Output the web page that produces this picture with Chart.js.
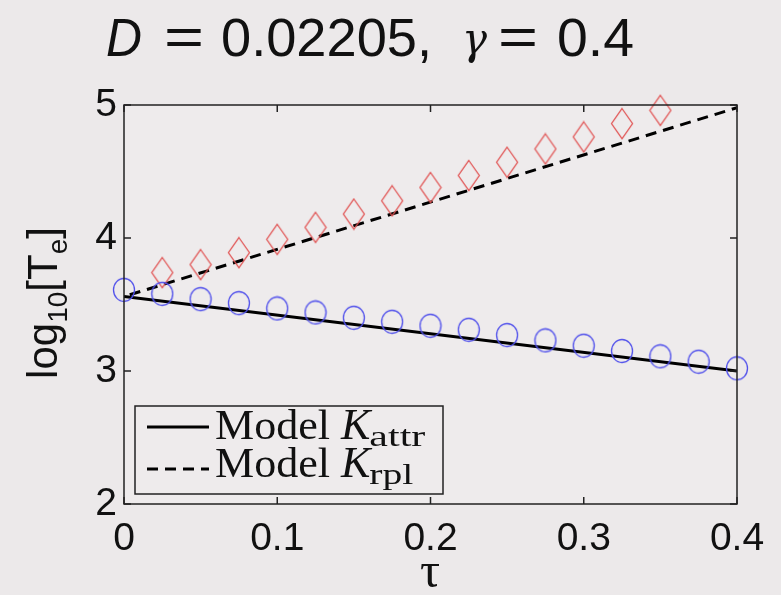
<!DOCTYPE html>
<html>
<head>
<meta charset="utf-8">
<script src="https://cdn.jsdelivr.net/npm/chart.js@4.4.1/dist/chart.umd.min.js"></script>
<style>
  html, body { margin: 0; padding: 0; background: #ece9ea; }
  #wrap { width: 781px; height: 595px; }
</style>
</head>
<body>
<div id="wrap"><canvas id="c" width="781" height="595"></canvas></div>
<script>
// data
const tauCircles = [0, 0.025, 0.05, 0.075, 0.1, 0.125, 0.15, 0.175, 0.2, 0.225, 0.25, 0.275, 0.3, 0.325, 0.35, 0.375, 0.4];
const attrSim = [3.61, 3.58, 3.54, 3.51, 3.47, 3.44, 3.40, 3.37, 3.34, 3.31, 3.27, 3.23, 3.19, 3.15, 3.11, 3.07, 3.02];
const tauDiamonds = [0.025, 0.05, 0.075, 0.1, 0.125, 0.15, 0.175, 0.2, 0.225, 0.25, 0.275, 0.3, 0.325, 0.35];
const rplSim = [3.74, 3.80, 3.89, 3.99, 4.08, 4.18, 4.28, 4.38, 4.47, 4.57, 4.67, 4.76, 4.86, 4.96];
const tauModel = [0, 0.4];
const attrModel = [3.56, 3.0];
const rplModel = [3.56, 4.98];
const xTicks = [0, 0.1, 0.2, 0.3, 0.4];
const yTicks = [2, 3, 4, 5];

const pts = (xs, ys) => xs.map((x, i) => ({ x: x, y: ys[i] }));

function marker(kind, color) {
  const cv = document.createElement("canvas");
  const w = 24;
  const h = kind === "circle" ? 26 : 33;
  cv.width = w; cv.height = h;
  const g = cv.getContext("2d");
  g.strokeStyle = color;
  g.lineWidth = 1.3;
  g.beginPath();
  if (kind === "circle") {
    g.ellipse(w / 2, h / 2, w / 2 - 1.5, h / 2 - 1.5, 0, 0, Math.PI * 2);
  } else {
    g.moveTo(w / 2, 1.5); g.lineTo(w - 1.5, h / 2); g.lineTo(w / 2, h - 1.5); g.lineTo(1.5, h / 2); g.closePath();
  }
  g.stroke();
  return cv;
}

// text squeezed or stretched to a given width
function textW(c, s, x, y, w) {
  const m = c.measureText(s).width;
  c.save();
  c.translate(x, y);
  c.scale(w / m, 1);
  c.fillText(s, 0, 0);
  c.restore();
}

const frame = {
  id: "frame",
  beforeDraw(chart) {
    const c = chart.ctx;
    c.save();
    c.fillStyle = "#ece9ea";
    c.fillRect(0, 0, chart.width, chart.height);
    const a = chart.chartArea;
    c.fillStyle = "#eeebec";
    c.fillRect(a.left, a.top, a.right - a.left, a.bottom - a.top);
    c.restore();
  },
  afterDraw(chart) {
    const c = chart.ctx;
    const a = chart.chartArea;
    const xs = chart.scales.x, ys = chart.scales.y;
    c.save();
    c.strokeStyle = "#222";
    c.lineWidth = 1.5;
    c.strokeRect(a.left, a.top, a.right - a.left, a.bottom - a.top);
    c.beginPath();
    xTicks.forEach((t) => {
      const px = xs.getPixelForValue(t);
      c.moveTo(px, a.bottom); c.lineTo(px, a.bottom - 7);
      c.moveTo(px, a.top); c.lineTo(px, a.top + 7);
    });
    yTicks.forEach((t) => {
      const py = ys.getPixelForValue(t);
      c.moveTo(a.left, py); c.lineTo(a.left + 7, py);
      c.moveTo(a.right, py); c.lineTo(a.right - 7, py);
    });
    c.stroke();

    // title
    c.fillStyle = "#111";
    c.textBaseline = "alphabetic";
    c.textAlign = "left";
    const by = 56;
    c.font = "italic 54px 'Liberation Sans'";
    textW(c, "D", 106, by, 36);
    c.font = "54px 'Liberation Sans'";
    textW(c, "=", 164, by - 1, 40);
    textW(c, "0.02205,", 221, by, 211);
    textW(c, "=", 498, by - 1, 40);
    textW(c, "0.4", 557, by, 77);
    c.font = "italic 44px 'DejaVu Serif'";
    textW(c, "\u03b3", 462, by - 2, 25);

    // x label
    c.textAlign = "center";
    c.font = "50px 'Liberation Serif'";
    c.fillText("\u03c4", 430, 587);
    c.textAlign = "left";

    // y label
    c.save();
    c.translate(57, 303);
    c.rotate(-Math.PI / 2);
    const parts = [["log", 42, 0], ["10", 28, 10], ["[T", 42, 0], ["e", 28, 10], ["]", 42, 0]];
    let total = 0;
    parts.forEach((p) => { c.font = p[1] + "px 'Liberation Sans'"; total += c.measureText(p[0]).width; });
    let lx = -total / 2;
    parts.forEach((p) => {
      c.font = p[1] + "px 'Liberation Sans'";
      c.fillText(p[0], lx, p[2]);
      lx += c.measureText(p[0]).width;
    });
    c.restore();

    // legend
    const L = { x: 135, y: 406, w: 308, h: 88 };
    c.fillStyle = "#eeebec";
    c.fillRect(L.x, L.y, L.w, L.h);
    c.strokeStyle = "#222";
    c.lineWidth = 1.5;
    c.strokeRect(L.x, L.y, L.w, L.h);
    const rows = [
      { ds: chart.data.datasets[2], sub: "attr", subW: 56, ly: 427, by: 439 },
      { ds: chart.data.datasets[3], sub: "rpl", subW: 44, ly: 469, by: 477 }
    ];
    rows.forEach((r) => {
      c.strokeStyle = r.ds.borderColor;
      c.lineWidth = r.ds.borderWidth;
      c.setLineDash(r.ds.borderDash || []);
      c.beginPath(); c.moveTo(147, r.ly); c.lineTo(209, r.ly); c.stroke();
      c.setLineDash([]);
      c.fillStyle = "#111";
      c.font = "43px 'Liberation Serif'";
      textW(c, "Model", 215, r.by, 115);
      c.font = "italic 44px 'Liberation Serif'";
      c.fillText("K", 341, r.by);
      const kEnd = 341 + c.measureText("K").width;
      c.font = "30px 'Liberation Serif'";
      textW(c, r.sub, kEnd - 1, r.by + 7, r.subW);
    });
    c.restore();
  }
};

new Chart(document.getElementById("c"), {
  type: "scatter",
  data: {
    datasets: [
      {
        label: "attr sim",
        data: pts(tauCircles, attrSim),
        pointStyle: marker("circle", "rgb(80,80,235)"),
        showLine: false,
        clip: false
      },
      {
        label: "rpl sim",
        data: pts(tauDiamonds, rplSim),
        pointStyle: marker("diamond", "rgb(225,85,85)"),
        showLine: false,
        clip: false
      },
      {
        label: "Model K_attr",
        data: pts(tauModel, attrModel),
        showLine: true,
        borderColor: "#000",
        borderWidth: 3,
        pointRadius: 0
      },
      {
        label: "Model K_rpl",
        data: pts(tauModel, rplModel),
        showLine: true,
        borderColor: "#000",
        borderWidth: 3,
        borderDash: [11, 7],
        borderDashOffset: -6,
        pointRadius: 0
      }
    ]
  },
  options: {
    responsive: false,
    animation: false,
    layout: { padding: { top: 105, right: 44, left: 0, bottom: 0 } },
    plugins: { legend: { display: false }, tooltip: { enabled: false } },
    scales: {
      x: {
        type: "linear",
        min: 0,
        max: 0.4,
        afterBuildTicks: (s) => { s.ticks = xTicks.map((v) => ({ value: v })); },
        afterFit: (s) => { s.height = 91; },
        grid: { display: false, drawTicks: false },
        border: { display: false },
        ticks: {
          color: "#111",
          padding: 12,
          maxRotation: 0,
          font: { family: "'Liberation Sans'", size: 39 },
          callback: (v) => String(v)
        }
      },
      y: {
        type: "linear",
        min: 2,
        max: 5,
        afterBuildTicks: (s) => { s.ticks = yTicks.map((v) => ({ value: v })); },
        afterFit: (s) => { s.width = 124; },
        grid: { display: false, drawTicks: false },
        border: { display: false },
        ticks: {
          color: "#111",
          padding: 7,
          font: { family: "'Liberation Sans'", size: 39 },
          callback: (v) => String(v)
        }
      }
    }
  },
  plugins: [frame]
});
</script>
</body>
</html>
